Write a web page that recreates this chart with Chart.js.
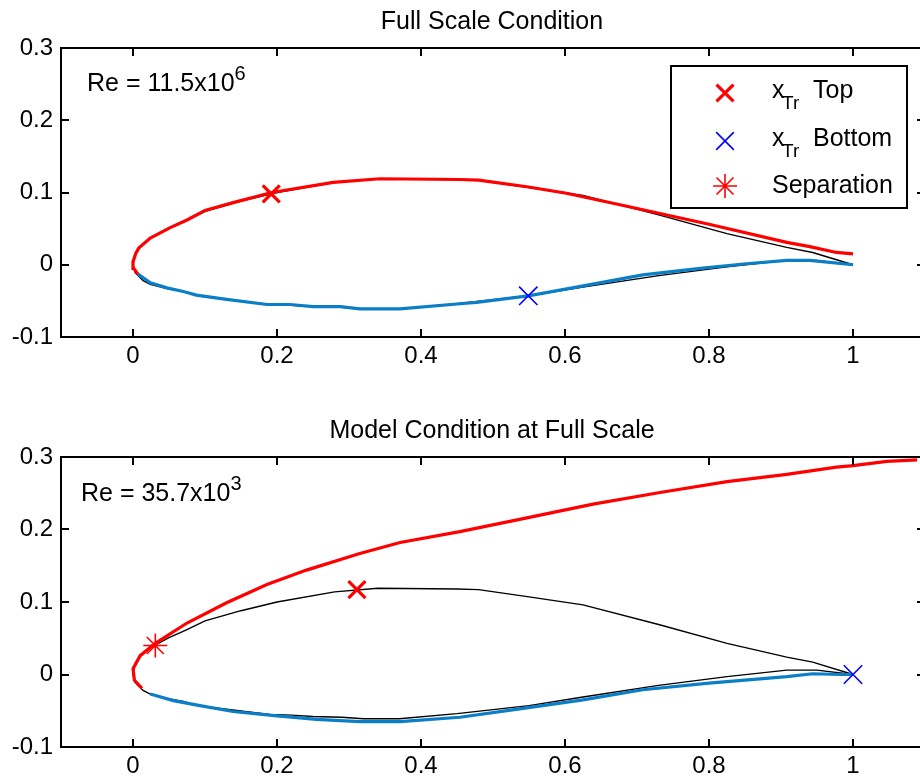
<!DOCTYPE html>
<html>
<head>
<meta charset="utf-8">
<script src="https://cdn.jsdelivr.net/npm/chart.js@4"></script>
<style>
  html, body { margin: 0; padding: 0; background: #fff; overflow: hidden; }
  #wrap { position: relative; width: 930px; height: 779px; }
  .box { position: absolute; left: 0; width: 930px; }
</style>
</head>
<body>
<div id="wrap">
  <div class="box" style="top:0"><canvas id="fullChart" width="930" height="390" style="width:930px;height:390px"></canvas></div>
  <div class="box" style="top:390px"><canvas id="modelChart" width="930" height="389" style="width:930px;height:389px"></canvas></div>
</div>
<script>
// tick labels
const xTicks = [0, 0.2, 0.4, 0.6, 0.8, 1];
const yTicks = [-0.1, 0, 0.1, 0.2, 0.3];

// airfoil geometry (black line)
const airfoilUpperX = [0, 0.003, 0.008, 0.024, 0.05, 0.075, 0.1, 0.15, 0.2, 0.28, 0.34, 0.45, 0.48, 0.55, 0.625, 0.73, 0.825, 0.908, 0.944, 1];
const airfoilUpperY = [0, 0.015, 0.023, 0.037, 0.051, 0.062, 0.074, 0.088, 0.1, 0.114, 0.119, 0.118, 0.117, 0.107, 0.096, 0.069, 0.043, 0.024, 0.017, 0];
const airfoilLowerX = [0, 0.003, 0.014, 0.024, 0.047, 0.07, 0.09, 0.13, 0.19, 0.22, 0.25, 0.29, 0.32, 0.37, 0.45, 0.55, 0.625, 0.73, 0.825, 0.908, 0.95, 1];
const airfoilLowerY = [0, -0.011, -0.022, -0.027, -0.033, -0.037, -0.043, -0.048, -0.055, -0.056, -0.058, -0.059, -0.061, -0.061, -0.054, -0.043, -0.031, -0.015, -0.003, 0.006, 0.006, 0];

// full scale condition
const fullTopX = [0.007, 0.001, 0, 0.004, 0.008, 0.024, 0.051, 0.075, 0.1, 0.139, 0.193, 0.278, 0.343, 0.454, 0.48, 0.547, 0.602, 0.686, 0.8, 0.908, 0.94, 0.977, 1.0];
const fullTopY = [-0.013, -0.005, 0.004, 0.016, 0.023, 0.037, 0.051, 0.062, 0.075, 0.086, 0.1, 0.114, 0.119, 0.118, 0.117, 0.108, 0.099, 0.081, 0.056, 0.031, 0.025, 0.017, 0.015];
const fullBotX = [0.007, 0.024, 0.047, 0.07, 0.088, 0.13, 0.186, 0.218, 0.25, 0.288, 0.315, 0.371, 0.454, 0.477, 0.549, 0.616, 0.708, 0.788, 0.848, 0.908, 0.94, 1.0];
const fullBotY = [-0.013, -0.025, -0.032, -0.037, -0.042, -0.048, -0.055, -0.055, -0.058, -0.058, -0.061, -0.061, -0.054, -0.052, -0.043, -0.031, -0.014, -0.005, 0.001, 0.006, 0.006, 0.0];
const fullTrTop = [0.192, 0.098];
const fullTrBottom = [0.549, -0.043];

// model condition at full scale
const modelTopX = [0.0125, 0.002, 0, 0.01, 0.031, 0.075, 0.13, 0.186, 0.241, 0.315, 0.371, 0.454, 0.547, 0.639, 0.732, 0.825, 0.908, 0.977, 1.0, 1.047, 1.089];
const modelTopY = [-0.019, -0.008, 0.008, 0.026, 0.043, 0.071, 0.099, 0.124, 0.144, 0.167, 0.182, 0.197, 0.216, 0.235, 0.251, 0.266, 0.276, 0.286, 0.288, 0.294, 0.296];
const modelBotX = [0.024, 0.056, 0.093, 0.139, 0.2, 0.255, 0.315, 0.371, 0.454, 0.547, 0.625, 0.708, 0.8, 0.908, 0.944, 0.982, 1.0];
const modelBotY = [-0.027, -0.036, -0.043, -0.051, -0.057, -0.062, -0.065, -0.065, -0.059, -0.046, -0.035, -0.021, -0.012, -0.003, 0.001, 0.0, 0.0];
const modelTrTop = [0.311, 0.117];
const modelTrBottom = [1.0, 0.0];
const modelSep = [0.031, 0.040];

const FONT = '"Liberation Sans", Arial, Helvetica, sans-serif';
const RED = '#ff0000';
const BLUE = '#0000ff';
const LINEBLUE = '#0a7fc7';

function pts(xs, ys) {
    return xs.map((x, i) => ({ x: x, y: ys[i] }));
}

function marker(p, style, color, r, w) {
    return { data: [{ x: p[0], y: p[1] }], showLine: false, pointStyle: style,
        pointRadius: r, pointBorderWidth: w, borderColor: color, backgroundColor: color };
}

function line(xs, ys, color, w) {
    return { data: pts(xs, ys), showLine: true, borderColor: color, borderWidth: w,
        pointRadius: 0, tension: 0, fill: false };
}

// frame, inward ticks, title, Re text and legend
const framePlugin = {
    id: 'frame',
    afterDraw(chart, args, opts) {
        const ctx = chart.ctx;
        const a = chart.chartArea;
        const sx = chart.scales.x, sy = chart.scales.y;
        ctx.save();
        ctx.strokeStyle = '#000';
        ctx.lineWidth = 2;
        ctx.strokeRect(a.left, a.top, a.right - a.left, a.bottom - a.top);
        ctx.beginPath();
        xTicks.forEach(v => {
            const px = Math.round(sx.getPixelForValue(v));
            ctx.moveTo(px, a.bottom); ctx.lineTo(px, a.bottom - 8);
            ctx.moveTo(px, a.top); ctx.lineTo(px, a.top + 8);
        });
        yTicks.forEach(v => {
            const py = Math.round(sy.getPixelForValue(v));
            ctx.moveTo(a.left, py); ctx.lineTo(a.left + 8, py);
            ctx.moveTo(a.right, py); ctx.lineTo(a.right - 8, py);
        });
        ctx.stroke();

        ctx.fillStyle = '#000';
        ctx.textBaseline = 'alphabetic';
        ctx.textAlign = 'center';
        ctx.font = '25px ' + FONT;
        ctx.fillText(opts.title, 492, opts.titleY);

        ctx.textAlign = 'left';
        ctx.fillText(opts.re, opts.reX, opts.reY);
        const w = ctx.measureText(opts.re).width;
        ctx.font = '20px ' + FONT;
        ctx.fillText(opts.reExp, opts.reX + w, opts.reY - 11);

        if (opts.legend) {
            ctx.lineWidth = 2;
            ctx.strokeStyle = '#000';
            ctx.fillStyle = '#fff';
            ctx.fillRect(671, 66, 236, 142);
            ctx.strokeRect(671, 66, 236, 142);
            const rows = [
                { style: 'crossRot', color: RED, r: 12, w: 3.2, y: 93, main: 'x', sub: 'Tr', rest: 'Top', base: 98 },
                { style: 'crossRot', color: BLUE, r: 12.5, w: 1.6, y: 141, main: 'x', sub: 'Tr', rest: 'Bottom', base: 146 },
                { style: 'star', color: RED, r: 12, w: 1.6, y: 186, main: 'Separation', sub: '', rest: '', base: 193 }
            ];
            rows.forEach(row => {
                ctx.strokeStyle = row.color;
                ctx.fillStyle = row.color;
                ctx.lineWidth = row.w;
                Chart.helpers.drawPoint(ctx, { pointStyle: row.style, radius: row.r, borderWidth: row.w, rotation: 0 }, 725, row.y);
                ctx.fillStyle = '#000';
                ctx.font = '25px ' + FONT;
                ctx.fillText(row.main, 772, row.base);
                if (row.sub) {
                    ctx.font = '19px ' + FONT;
                    ctx.fillText(row.sub, 782, row.base + 11);
                    ctx.font = '25px ' + FONT;
                    ctx.fillText(row.rest, 813, row.base);
                }
            });
        }
        ctx.restore();
    }
};

function makeChart(id, datasets, frameOpts, areaTop, xAxisHeight) {
    return new Chart(document.getElementById(id), {
        type: 'scatter',
        data: { datasets: datasets },
        plugins: [framePlugin],
        options: {
            responsive: false,
            animation: false,
            layout: { autoPadding: false, padding: { top: areaTop, right: 5, left: 0, bottom: 0 } },
            plugins: {
                legend: { display: false },
                tooltip: { enabled: false },
                frame: frameOpts
            },
            scales: {
                x: {
                    type: 'linear', min: -0.1, max: 1.1,
                    grid: { display: false, drawTicks: false },
                    border: { display: false },
                    afterBuildTicks: (scale) => { scale.ticks = xTicks.map(v => ({ value: v })); },
                    afterFit: (scale) => { scale.height = xAxisHeight; },
                    ticks: { color: '#000', padding: 5, maxRotation: 0, autoSkip: false,
                        font: { family: FONT, size: 24 }, callback: (v) => String(v) }
                },
                y: {
                    type: 'linear', min: -0.1, max: 0.3,
                    grid: { display: false, drawTicks: false },
                    border: { display: false },
                    afterBuildTicks: (scale) => { scale.ticks = yTicks.map(v => ({ value: v })); },
                    afterFit: (scale) => { scale.width = 61; },
                    ticks: { color: '#000', padding: 8,
                        font: { family: FONT, size: 24 }, callback: (v) => String(v) }
                }
            }
        }
    });
}

makeChart('fullChart', [
    marker(fullTrTop, 'crossRot', RED, 12, 3.2),
    marker(fullTrBottom, 'crossRot', BLUE, 13, 1.6),
    line(fullTopX, fullTopY, RED, 3.2),
    line(fullBotX, fullBotY, LINEBLUE, 3.2),
    line(airfoilUpperX, airfoilUpperY, '#000', 1.4),
    line(airfoilLowerX, airfoilLowerY, '#000', 1.4)
], { title: 'Full Scale Condition', titleY: 29, re: 'Re = 11.5x10', reExp: '6', reX: 87, reY: 91, legend: true }, 48, 53);

makeChart('modelChart', [
    marker(modelSep, 'star', RED, 12, 1.6),
    marker(modelTrTop, 'crossRot', RED, 12, 3.2),
    marker(modelTrBottom, 'crossRot', BLUE, 13, 1.6),
    line(modelTopX, modelTopY, RED, 3.2),
    line(modelBotX, modelBotY, LINEBLUE, 3.2),
    line(airfoilUpperX, airfoilUpperY, '#000', 1.4),
    line(airfoilLowerX, airfoilLowerY, '#000', 1.4)
], { title: 'Model Condition at Full Scale', titleY: 48, re: 'Re = 35.7x10', reExp: '3', reX: 81, reY: 111, legend: false }, 67, 32);
</script>
</body>
</html>
